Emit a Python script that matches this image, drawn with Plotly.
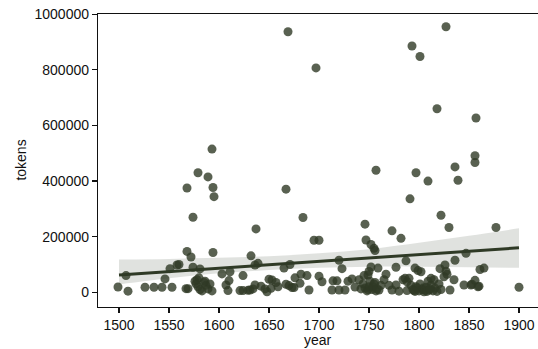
import plotly.graph_objects as go

# --- data ---
years = [
    1669, 1697, 1827, 1793, 1801, 1818, 1857, 1593, 1856, 1856, 1836, 1757, 1797, 1579, 1589,
    1839, 1809, 1568, 1594, 1667, 1595, 1791, 1822, 1574, 1684, 1746, 1830, 1877, 1637, 1773,
    1782, 1695, 1700, 1747, 1752, 1755, 1756, 1568, 1594, 1847, 1632, 1572, 1720, 1787, 1836,
    1639, 1636, 1558, 1560, 1671, 1826,
    1551, 1574, 1581, 1507, 1546, 1603, 1611, 1624, 1665, 1682, 1688, 1676, 1700, 1723, 1752,
    1750, 1749, 1759, 1767, 1777, 1796, 1802, 1799, 1821, 1827, 1828, 1825, 1861, 1865, 1786,
    1745, 1580,
    1499, 1509, 1526, 1535, 1543, 1553, 1567, 1569, 1576, 1577, 1579, 1581, 1583, 1585, 1587,
    1589, 1591, 1593, 1578, 1586, 1607, 1610, 1609, 1621, 1624, 1629, 1631, 1636, 1634, 1642,
    1646, 1648, 1652, 1650, 1653, 1657, 1659, 1667, 1670, 1673, 1675, 1681, 1690, 1703, 1714,
    1718, 1713, 1720, 1726, 1736, 1744, 1746, 1748, 1750, 1751, 1753, 1755, 1757, 1760, 1762,
    1770, 1773, 1777, 1780, 1788, 1788, 1792, 1794, 1796, 1798, 1800, 1801, 1803, 1805, 1807,
    1809, 1810, 1812, 1814, 1816, 1818, 1820, 1822, 1831, 1845, 1852, 1853, 1856, 1859, 1860,
    1900, 1740, 1733, 1729, 1765, 1784, 1790, 1812, 1815, 1835, 1749, 1754, 1758, 1804, 1806,
    1808, 1811, 1797, 1795, 1742, 1756,
]
tokens = [
    937000, 807000, 955000, 886000, 848000, 660000, 627000, 515000, 491000, 467000, 451000, 439000, 430000, 430000, 415000,
    403000, 400000, 375000, 377000, 371000, 344000, 336000, 277000, 270000, 269000, 245000, 233000, 233000, 228000, 221000,
    194000, 187000, 187000, 188000, 172000, 158000, 150000, 147000, 143000, 140000, 131000, 127000, 115000, 113000, 115000,
    104000, 98000, 98000, 100000, 100000, 98000,
    85000, 90000, 84000, 60000, 48000, 66000, 74000, 60000, 87000, 65000, 60000, 52000, 58000, 85000, 91000,
    75000, 62000, 87000, 65000, 90000, 87000, 74000, 78000, 85000, 76000, 65000, 56000, 82000, 87000, 50000,
    60000, 52000,
    19000, 4000, 18000, 18000, 18000, 18000, 13000, 13000, 40000, 30000, 20000, 10000, 5000, 35000, 25000,
    12000, 30000, 5000, 45000, 40000, 26000, 42000, 6000, 6000, 6000, 7000, 8000, 26000, 12000, 22000,
    12000, 2000, 14000, 47000, 44000, 35000, 20000, 29000, 24000, 17000, 17000, 32000, 8000, 38000, 41000,
    41000, 8000, 8000, 8000, 19000, 30000, 15000, 5000, 20000, 40000, 10000, 30000, 5000, 8000, 25000,
    25000, 8000, 26000, 4000, 38000, 6000, 25000, 10000, 3000, 15000, 5000, 30000, 10000, 2000, 18000,
    40000, 8000, 25000, 5000, 15000, 3000, 30000, 10000, 8000, 26000, 26000, 29000, 43000, 20000, 22000,
    18000, 45000, 48000, 40000, 45000, 45000, 50000, 50000, 45000, 45000, 10000, 20000, 12000, 15000, 8000,
    3000, 12000, 20000, 6000, 12000, 35000,
]

# regression line and confidence band
fit_years = [1500, 1550, 1600, 1650, 1700, 1750, 1800, 1850, 1900]
fit_line = [62000, 74000, 87000, 99000, 111000, 123000, 135000, 148000, 160000]
ci_low = [28000, 50000, 68000, 80000, 88000, 92000, 92000, 90000, 88000]
ci_high = [118000, 120000, 124000, 130000, 140000, 155000, 178000, 203000, 230000]

x_ticks = [1500, 1550, 1600, 1650, 1700, 1750, 1800, 1850, 1900]
y_ticks = [0, 200000, 400000, 600000, 800000, 1000000]
x_title = "year"
y_title = "tokens"

base = "47,58,38"

fig = go.Figure()
fig.add_trace(go.Scatter(
    x=years, y=tokens, mode="markers",
    marker=dict(size=9, color=f"rgba({base},0.8)", line=dict(width=0)),
    hoverinfo="skip", showlegend=False,
))
fig.add_trace(go.Scatter(
    x=fit_years, y=ci_low, mode="lines", line=dict(width=0, shape="spline"),
    showlegend=False, hoverinfo="skip",
))
fig.add_trace(go.Scatter(
    x=fit_years, y=ci_high, mode="lines", line=dict(width=0, shape="spline"),
    fill="tonexty", fillcolor=f"rgba({base},0.15)",
    showlegend=False, hoverinfo="skip",
))
fig.add_trace(go.Scatter(
    x=fit_years, y=fit_line, mode="lines",
    line=dict(width=3, color=f"rgb({base})"),
    showlegend=False, hoverinfo="skip",
))

font = dict(family="Liberation Sans, Arial, sans-serif", size=14, color="#111111")

fig.update_layout(
    width=538, height=349, autosize=False,
    margin=dict(l=98, r=0, t=14, b=42, pad=0, autoexpand=False),
    paper_bgcolor="white", plot_bgcolor="white",
    font=font,
    xaxis=dict(
        range=[1479, 1919], tickvals=x_ticks, ticktext=[str(v) for v in x_ticks],
        showgrid=False, zeroline=False, showline=True, linecolor="#111111", linewidth=1.2,
        mirror=True, ticks="outside", ticklen=5, tickwidth=1.2, tickcolor="#111111",
        tickfont=font, automargin=False, ticklabeloverflow="allow",
    ),
    yaxis=dict(
        range=[-53000, 1001000], tickvals=y_ticks, ticktext=[str(v) for v in y_ticks],
        showgrid=False, zeroline=False, showline=True, linecolor="#111111", linewidth=1.2,
        ticks="outside", ticklen=5, tickwidth=1.2, tickcolor="#111111",
        tickfont=font, automargin=False, ticklabeloverflow="allow",
    ),
    annotations=[
        dict(text=x_title, xref="paper", yref="paper", x=0.5, y=-0.1126,
             xanchor="center", yanchor="middle", showarrow=False, font=font),
        dict(text=y_title, xref="paper", yref="paper", x=-0.177, y=0.5,
             xanchor="center", yanchor="middle", textangle=-90, showarrow=False, font=font),
    ],
)

# remove the default page margin so the figure sits at the window's top-left corner
fig.write_html(
    "out.html",
    config={"displayModeBar": False, "staticPlot": True},
    post_script="document.body.style.margin='0';document.body.style.overflow='hidden';",
)
